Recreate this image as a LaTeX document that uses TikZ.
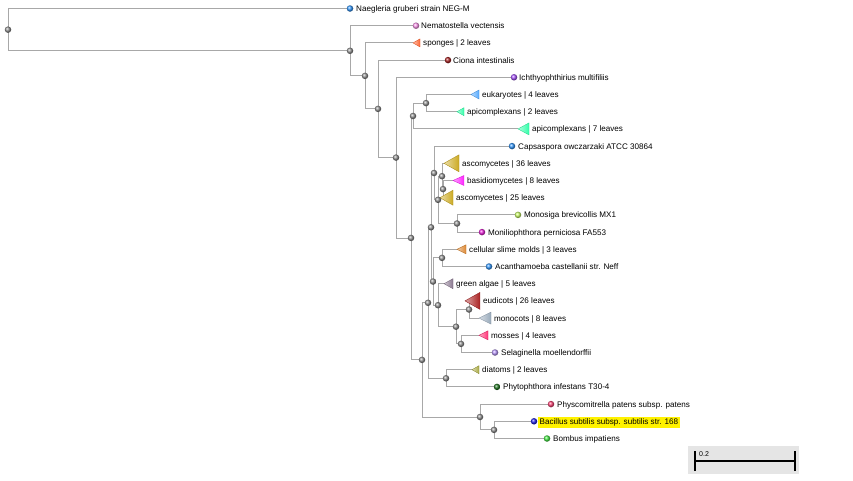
\documentclass[tikz,border=0pt]{standalone}
\usepackage{fontspec}
\setmainfont{Liberation Sans}
\definecolor{edgegray}{HTML}{A8A8A8}
\definecolor{cblue}{HTML}{3399FF}
\definecolor{cpinklt}{HTML}{FF99EE}
\definecolor{csponge}{HTML}{FF6633}
\definecolor{cmaroon}{HTML}{AA2222}
\definecolor{cpurple}{HTML}{AA55FF}
\definecolor{ceuk}{HTML}{55AAFF}
\definecolor{capi}{HTML}{33FFAA}
\definecolor{casco}{HTML}{CCAA22}
\definecolor{cbasid}{HTML}{FF22FF}
\definecolor{cmono}{HTML}{CCFF66}
\definecolor{cmoni}{HTML}{EE22DD}
\definecolor{cslime}{HTML}{DD8833}
\definecolor{calgae}{HTML}{8A7890}
\definecolor{cmonoc}{HTML}{99AABB}
\definecolor{cmoss}{HTML}{FF3377}
\definecolor{cselag}{HTML}{BB99FF}
\definecolor{cdiat}{HTML}{AAAA44}
\definecolor{cphyt}{HTML}{227722}
\definecolor{cphysc}{HTML}{FF4477}
\definecolor{cbac}{HTML}{2222EE}
\definecolor{cbomb}{HTML}{44EE44}
\newcommand{\cladetri}[4]{%
  \path[left color=#4!40!white, right color=#4, draw=#4!85!black, line width=0.4pt]
    (#1) -- ++(#2,-#3) -- ++(0,2*#3) -- cycle;}
\begin{document}
\begin{tikzpicture}[x=1pt,y=-1pt,
  edge/.style={draw=edgegray, line width=0.9pt},
  inode/.style={circle, inner sep=0pt, minimum size=6.5pt, shading=ball, ball color=gray!85},
  leafdot/.style={circle, inner sep=0pt, minimum size=6.5pt, shading=ball, ball color=#1},
  lab/.style={anchor=base west, inner sep=0pt, font=\fontsize{8.1}{9}\selectfont},
]
\useasboundingbox (0,0) rectangle (853,480);
% leaf points (dot centres or triangle apexes)
\coordinate (L1) at (350,8.5);
\coordinate (L2) at (416,25.7);
\coordinate (L3) at (413,42.9);
\coordinate (L4) at (448,60.1);
\coordinate (L5) at (514,77.3);
\coordinate (L6) at (471,94.5);
\coordinate (L7) at (457,111.7);
\coordinate (L8) at (518,128.9);
\coordinate (L9) at (512,146.1);
\coordinate (L10) at (444,163.3);
\coordinate (L11) at (453,180.5);
\coordinate (L12) at (440,197.7);
\coordinate (L13) at (518,214.9);
\coordinate (L14) at (482,232.1);
\coordinate (L15) at (457,249.3);
\coordinate (L16) at (489,266.5);
\coordinate (L17) at (444,283.7);
\coordinate (L18) at (465,300.9);
\coordinate (L19) at (479,318.1);
\coordinate (L20) at (479,335.3);
\coordinate (L21) at (495,352.5);
\coordinate (L22) at (472,369.7);
\coordinate (L23) at (497,386.9);
\coordinate (L24) at (551,404.1);
\coordinate (L25) at (534,421.3);
\coordinate (L26) at (547,438.5);
% internal nodes
\coordinate (N0) at (8,29.65);
\coordinate (A) at (350,50.8);
\coordinate (B) at (365,75.9);
\coordinate (C) at (378,108.9);
\coordinate (D) at (396,157.6);
\coordinate (E) at (411,237.95);
\coordinate (K) at (413,116);
\coordinate (K2) at (426,103.1);
\coordinate (F) at (422,359.9);
\coordinate (T) at (428,302.8);
\coordinate (R) at (431,227.3);
\coordinate (P) at (434,173);
\coordinate (Q) at (438,199.85);
\coordinate (Y) at (442,176.2);
\coordinate (Z) at (443,189.1);
\coordinate (MM) at (457,223.5);
\coordinate (S) at (433,281.55);
\coordinate (V) at (442,257.9);
\coordinate (W) at (438,305.2);
\coordinate (X) at (456,326.7);
\coordinate (EM) at (469,309.5);
\coordinate (MS) at (461,343.9);
\coordinate (U) at (446,378.3);
\coordinate (G) at (480,417);
\coordinate (H) at (494,429.9);
% branches
\foreach \p/\c in {N0/L1,N0/A,A/L2,A/B,B/L3,B/C,C/L4,C/D,D/L5,D/E,E/K,E/F,K/K2,K/L8,K2/L6,K2/L7,
  F/T,F/G,T/R,T/U,R/P,R/S,P/L9,P/Q,Q/Y,Q/MM,Y/L10,Y/Z,Z/L11,Z/L12,MM/L13,MM/L14,
  S/V,S/W,V/L15,V/L16,W/L17,W/X,X/EM,X/MS,EM/L18,EM/L19,MS/L20,MS/L21,U/L22,U/L23,G/L24,G/H,H/L25,H/L26}
  \draw[edge] (\p) |- (\c);
% collapsed clades
\cladetri{L3}{7}{4}{csponge}
\cladetri{L6}{8}{4.5}{ceuk}
\cladetri{L7}{7}{4}{capi}
\cladetri{L8}{11}{6}{capi}
\cladetri{L10}{15}{8.5}{casco}
\cladetri{L11}{11}{5}{cbasid}
\cladetri{L12}{13}{7.5}{casco}
\cladetri{L15}{9}{4.5}{cslime}
\cladetri{L17}{9}{5}{calgae}
\cladetri{L18}{15}{8.5}{cmaroon}
\cladetri{L19}{12}{6}{cmonoc}
\cladetri{L20}{9}{4.5}{cmoss}
\cladetri{L22}{7}{4}{cdiat}
% leaf dots
\node[leafdot=cblue] (d1) at (L1) {};
\node[leafdot=cpinklt] (d2) at (L2) {};
\node[leafdot=cmaroon] (d4) at (L4) {};
\node[leafdot=cpurple] (d5) at (L5) {};
\node[leafdot=cblue] (d9) at (L9) {};
\node[leafdot=cmono] (d13) at (L13) {};
\node[leafdot=cmoni] (d14) at (L14) {};
\node[leafdot=cblue] (d16) at (L16) {};
\node[leafdot=cselag] (d21) at (L21) {};
\node[leafdot=cphyt] (d23) at (L23) {};
\node[leafdot=cphysc] (d24) at (L24) {};
\node[leafdot=cbac] (d25) at (L25) {};
\node[leafdot=cbomb] (d26) at (L26) {};
% internal node markers
\foreach \n in {N0,A,B,C,D,E,K,K2,F,T,R,P,Q,Y,Z,MM,S,V,W,X,EM,MS,U,G,H}
  \node[inode] (m\n) at (\n) {};
% labels
\node[lab] (t1) at (356,11.5) {Naegleria gruberi strain NEG-M};
\node[lab] (t2) at (421,28.7) {Nematostella vectensis};
\node[lab] (t3) at (423,45.9) {sponges | 2 leaves};
\node[lab] (t4) at (453,63.1) {Ciona intestinalis};
\node[lab] (t5) at (519,80.3) {Ichthyophthirius multifiliis};
\node[lab] (t6) at (482,97.5) {eukaryotes | 4 leaves};
\node[lab] (t7) at (467,114.7) {apicomplexans | 2 leaves};
\node[lab] (t8) at (532,131.9) {apicomplexans | 7 leaves};
\node[lab] (t9) at (518,149.1) {Capsaspora owczarzaki ATCC 30864};
\node[lab] (t10) at (462,166.3) {ascomycetes | 36 leaves};
\node[lab] (t11) at (467,183.5) {basidiomycetes | 8 leaves};
\node[lab] (t12) at (456,200.7) {ascomycetes | 25 leaves};
\node[lab] (t13) at (524,217.9) {Monosiga brevicollis MX1};
\node[lab] (t14) at (488,235.1) {Moniliophthora perniciosa FA553};
\node[lab] (t15) at (469,252.3) {cellular slime molds | 3 leaves};
\node[lab] (t16) at (495,269.5) {Acanthamoeba castellanii str. Neff};
\node[lab] (t17) at (456,286.7) {green algae | 5 leaves};
\node[lab] (t18) at (483,303.9) {eudicots | 26 leaves};
\node[lab] (t19) at (494,321.1) {monocots | 8 leaves};
\node[lab] (t20) at (491,338.3) {mosses | 4 leaves};
\node[lab] (t21) at (501,355.5) {Selaginella moellendorffii};
\node[lab] (t22) at (482,372.7) {diatoms | 2 leaves};
\node[lab] (t23) at (503,389.9) {Phytophthora infestans T30-4};
\node[lab] (t24) at (557,407.1) {Physcomitrella patens subsp. patens};
\node[lab, fill=yellow, inner xsep=1.5pt, inner ysep=1.6pt] (t25) at (538,424.3) {Bacillus subtilis subsp. subtilis str. 168};
\node[lab] (t26) at (553,441.5) {Bombus impatiens};
% scale bar
\fill[black!10] (688,446) rectangle (799,474);
\coordinate (sbL) at (695,461);
\coordinate (sbR) at (795,461);
\draw[line width=1.6pt] (sbL) -- (sbR);
\draw[line width=1.6pt] ([yshift=-10pt]sbL) -- ([yshift=10pt]sbL);
\draw[line width=1.6pt] ([yshift=-10pt]sbR) -- ([yshift=10pt]sbR);
\node[lab, font=\fontsize{7}{8}\selectfont] (sbt) at (699,456) {0.2};
\end{tikzpicture}
\end{document}
